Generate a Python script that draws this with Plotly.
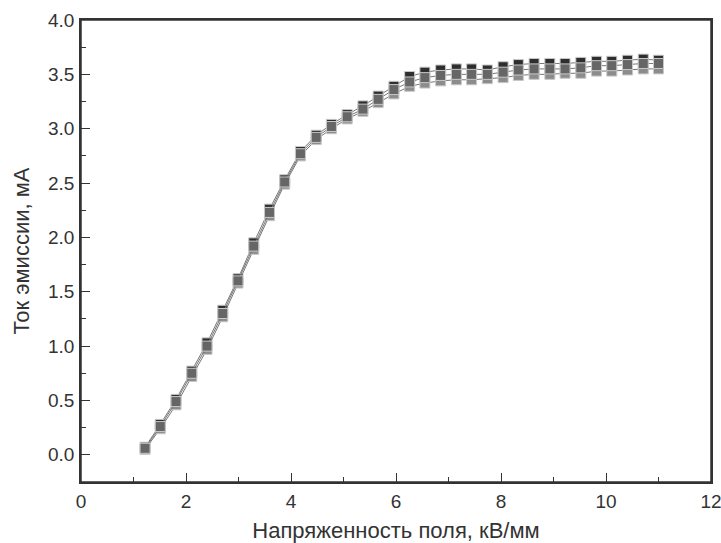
import plotly.graph_objects as go

# field strength, kV/mm
field = [1.22, 1.51, 1.81, 2.11, 2.40, 2.70, 2.99, 3.29, 3.59, 3.88,
         4.18, 4.48, 4.77, 5.07, 5.37, 5.66, 5.96, 6.26, 6.55, 6.85,
         7.15, 7.44, 7.74, 8.04, 8.33, 8.63, 8.93, 9.22, 9.52, 9.82,
         10.11, 10.41, 10.71, 11.00]

# emission current, mA (three overlapping runs)
run_upper = [0.07, 0.28, 0.51, 0.77, 1.03, 1.33, 1.62, 1.95, 2.26, 2.53,
             2.79, 2.94, 3.04, 3.13, 3.21, 3.30, 3.39, 3.48, 3.52, 3.54,
             3.55, 3.55, 3.54, 3.57, 3.59, 3.60, 3.60, 3.60, 3.61, 3.62,
             3.62, 3.63, 3.64, 3.63]
run_mid = [0.06, 0.26, 0.49, 0.75, 1.00, 1.30, 1.60, 1.92, 2.23, 2.51,
           2.77, 2.92, 3.02, 3.11, 3.18, 3.27, 3.36, 3.43, 3.47, 3.49,
           3.50, 3.50, 3.50, 3.52, 3.54, 3.55, 3.55, 3.55, 3.56, 3.58,
           3.58, 3.59, 3.60, 3.60]
run_lower = [0.05, 0.24, 0.46, 0.72, 0.97, 1.27, 1.58, 1.89, 2.20, 2.49,
             2.75, 2.90, 3.00, 3.09, 3.16, 3.24, 3.32, 3.39, 3.42, 3.44,
             3.45, 3.45, 3.46, 3.47, 3.49, 3.50, 3.50, 3.51, 3.51, 3.53,
             3.53, 3.54, 3.55, 3.55]

runs = [(run_upper, '#2e2e2e'), (run_lower, '#8c8c8c'), (run_mid, '#666666')]

fig = go.Figure()
for ys, col in runs:
    fig.add_trace(go.Scatter(
        x=field, y=ys, mode='lines+markers',
        line=dict(color='#777777', width=1),
        marker=dict(symbol='square', size=10, color=col,
                    line=dict(color='#c8c8c8', width=1)),
        showlegend=False))

axis_common = dict(
    showline=True, linecolor='#333333', linewidth=1.5, mirror=True,
    ticks='inside', ticklen=9, tickwidth=1.2, tickcolor='#333333',
    showgrid=False, zeroline=False, automargin=False,
    ticklabeloverflow='allow',
    tickfont=dict(family='Liberation Sans, Arial', size=19, color='#333333'),
)

fig.update_layout(
    width=721, height=543,
    margin=dict(l=81, r=10, t=20, b=61),
    paper_bgcolor='white', plot_bgcolor='white',
    font=dict(family='Liberation Sans, Arial', color='#333333'),
    xaxis=dict(range=[0, 12], tickvals=[0, 2, 4, 6, 8, 10, 12], ticklabelstandoff=1,
               minor=dict(ticks='inside', ticklen=5, dtick=1, tickcolor='#333333'),
               title=dict(text='Напряженность поля, кВ/мм', font=dict(size=22), standoff=19),
               **axis_common),
    yaxis=dict(range=[-0.25, 4.0], dtick=0.5, tick0=0, tickformat='.1f',
               ticklabelstandoff=1,
               minor=dict(ticks='inside', ticklen=5, dtick=0.25, tickcolor='#333333'),
               title=dict(text='Ток эмиссии, мА', font=dict(size=22), standoff=12),
               **axis_common),
)

# frame around the plot area
fig.add_shape(type='rect', xref='paper', yref='paper', x0=0, x1=1, y0=0, y1=1,
              line=dict(color='#333333', width=1.5), layer='above')

# drop the default page margin and scrollbars so the figure fills the window
fig.write_html("out.html", config={'displayModeBar': False},
               post_script="document.body.style.margin='0';"
                           "document.body.style.overflow='hidden';")
